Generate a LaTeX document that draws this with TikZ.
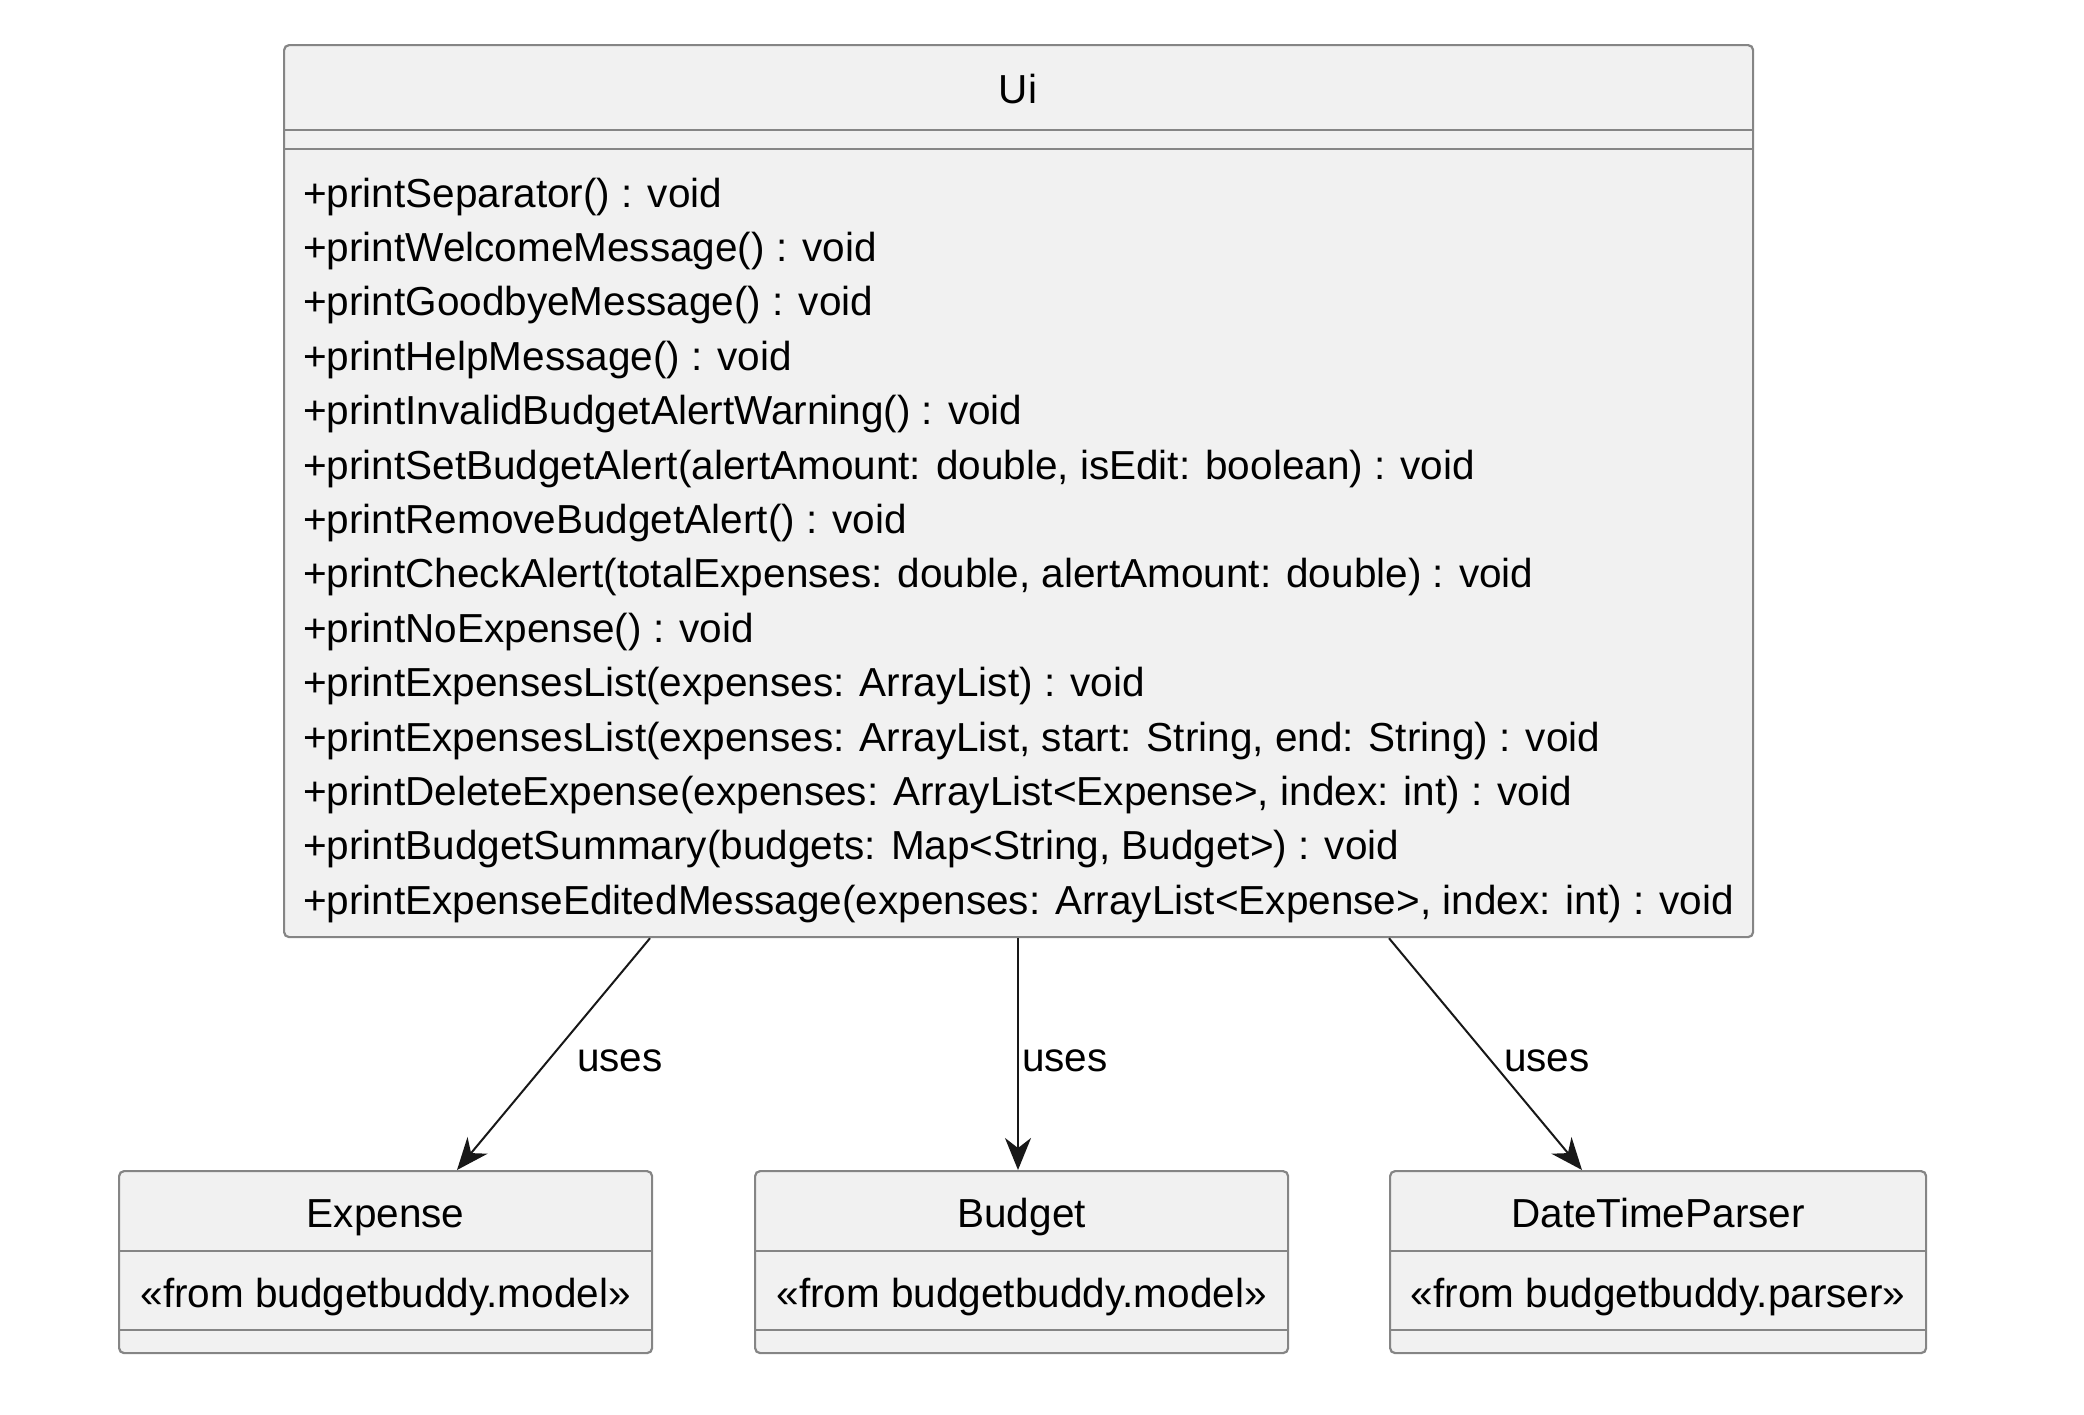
\documentclass[tikz,border=0pt]{standalone}
\usepackage{fontspec}
\setmainfont{Liberation Sans}
\usetikzlibrary{arrows.meta}
\definecolor{boxfill}{HTML}{F1F1F1}
\definecolor{boxline}{HTML}{858585}
\definecolor{ink}{HTML}{181818}
\begin{document}
\begin{tikzpicture}[x=1pt,y=-1pt,
  classbox/.style={draw=boxline, fill=boxfill, line width=2.2pt, rounded corners=5pt,
    inner sep=0pt, anchor=north west},
  sepline/.style={draw=boxline, line width=2.2pt},
  txt/.style={font=\fontsize{40.5}{48}\selectfont, text=black, inner sep=0pt},
  uses/.style={draw=ink, line width=2pt, -{Stealth[length=32pt,width=26pt,inset=10pt]}},
  lbl/.style={txt, anchor=base west}]
\useasboundingbox (0,0) rectangle (2084,1414);

% Ui class
\node[classbox, minimum width=1469pt, minimum height=892pt] (ui) at (283,44) {};
\draw[sepline] (ui.west |- 0,130) -- (ui.east |- 0,130);
\draw[sepline] (ui.west |- 0,149) -- (ui.east |- 0,149);
\node[txt, anchor=base] (uiname) at (1018,103) {Ui};
\foreach \t [count=\i] in {
  {+printSeparator() : void},
  {+printWelcomeMessage() : void},
  {+printGoodbyeMessage() : void},
  {+printHelpMessage() : void},
  {+printInvalidBudgetAlertWarning() : void},
  {+printSetBudgetAlert(alertAmount: double, isEdit: boolean) : void},
  {+printRemoveBudgetAlert() : void},
  {+printCheckAlert(totalExpenses: double, alertAmount: double) : void},
  {+printNoExpense() : void},
  {+printExpensesList(expenses: ArrayList) : void},
  {+printExpensesList(expenses: ArrayList, start: String, end: String) : void},
  {+printDeleteExpense(expenses: ArrayList<Expense>, index: int) : void},
  {+printBudgetSummary(budgets: Map<String, Budget>) : void},
  {+printExpenseEditedMessage(expenses: ArrayList<Expense>, index: int) : void}}
  \node[txt, anchor=base west] (m\i) at (303,{207+(\i-1)*54.4}) {\t};

% Referenced classes
\node[classbox, minimum width=533pt, minimum height=182pt] (expense) at (118,1170) {};
\node[classbox, minimum width=533pt, minimum height=182pt] (budget) at (754,1170) {};
\node[classbox, minimum width=536pt, minimum height=182pt] (dtp) at (1389,1170) {};
\foreach \b in {expense,budget,dtp} {
  \draw[sepline] (\b.west |- 0,1251) -- (\b.east |- 0,1251);
  \draw[sepline] (\b.west |- 0,1330) -- (\b.east |- 0,1330);
}
\node[txt, anchor=base] (expname) at (expense.north |- 0,1227) {Expense};
\node[txt, anchor=base] (expster) at (expense.north |- 0,1307) {«from budgetbuddy.model»};
\node[txt, anchor=base] (budname) at (budget.north |- 0,1227) {Budget};
\node[txt, anchor=base] (budster) at (budget.north |- 0,1307) {«from budgetbuddy.model»};
\node[txt, anchor=base] (dtpname) at (dtp.north |- 0,1227) {DateTimeParser};
\node[txt, anchor=base] (dtpster) at (dtp.north |- 0,1307) {«from budgetbuddy.parser»};

% Dependencies
\draw[uses] (ui.south -| 650,0) -- (expense.north -| 457,0);
\draw[uses] (ui.south -| 1018,0) -- (budget.north -| 1018,0);
\draw[uses] (ui.south -| 1389,0) -- (dtp.north -| 1582,0);
\node[lbl] (l1) at (577,1071) {uses};
\node[lbl] (l2) at (1022,1071) {uses};
\node[lbl] (l3) at (1504,1071) {uses};
\end{tikzpicture}
\end{document}
